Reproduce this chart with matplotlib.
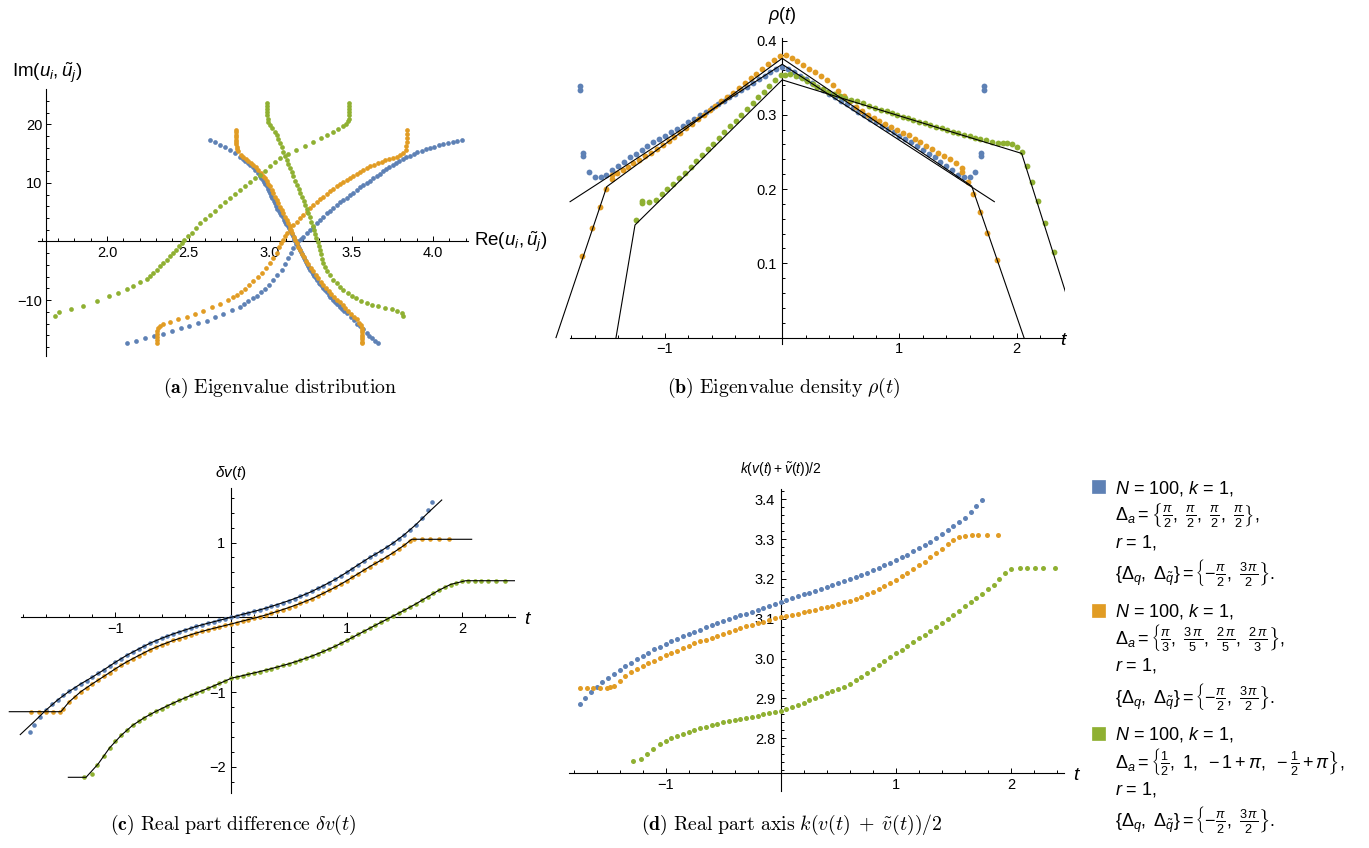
import numpy as np
import matplotlib
matplotlib.use("Agg")
import matplotlib.pyplot as plt
from matplotlib.patches import Rectangle
from matplotlib.ticker import FixedLocator

plt.rcParams['font.family'] = ['Liberation Sans', 'DejaVu Sans']
plt.rcParams['mathtext.fontset'] = 'custom'
plt.rcParams['mathtext.rm'] = 'Liberation Sans'
plt.rcParams['mathtext.it'] = 'Liberation Sans:italic'
plt.rcParams['mathtext.bf'] = 'Liberation Sans:bold'

BLUE, ORANGE, GREEN = '#5e81b5', '#e19c24', '#8fb032'

# ---------------- (a) eigenvalues in the complex plane: (Re, Im) ----------------
blue_a_rise = [(2.121, -17.3), (2.178, -16.9), (2.233, -16.5), (2.288, -16.2), (2.341, -15.7), (2.397, -15.2),
               (2.452, -14.8), (2.505, -14.4), (2.56, -13.9), (2.611, -13.5), (2.663, -12.9), (2.714, -12.3),
               (2.765, -11.75), (2.816, -11.1), (2.842, -10.65), (2.867, -10.2), (2.893, -9.7), (2.918, -9.25),
               (2.944, -8.7), (2.969, -8.1), (2.995, -7.35), (3.02, -6.6), (3.046, -5.7), (3.072, -4.8),
               (3.092, -3.8), (3.112, -2.8), (3.128, -1.95), (3.143, -1.1), (3.158, -0.5), (3.174, 0.0),
               (3.189, 0.45), (3.204, 0.85), (3.225, 1.45), (3.245, 2.0), (3.266, 2.55), (3.286, 3.1),
               (3.307, 3.7), (3.327, 4.26), (3.348, 4.8), (3.368, 5.28), (3.389, 5.8), (3.409, 6.25),
               (3.43, 6.7), (3.45, 7.1), (3.471, 7.5), (3.491, 7.9), (3.512, 8.35), (3.532, 8.8),
               (3.552, 9.25), (3.572, 9.66), (3.593, 10.05), (3.613, 10.4), (3.634, 10.8), (3.654, 11.2),
               (3.675, 11.6), (3.695, 12.0), (3.714, 12.35), (3.732, 12.7), (3.753, 13.05), (3.773, 13.4),
               (3.794, 13.7), (3.814, 14.0), (3.837, 14.35), (3.859, 14.65), (3.882, 14.95), (3.904, 15.2),
               (3.93, 15.45), (3.955, 15.7), (3.982, 15.95), (4.008, 16.2), (4.036, 16.4), (4.064, 16.6),
               (4.093, 16.8), (4.121, 17.0), (4.149, 17.15), (4.176, 17.3)]
blue_a_fall = [(2.632, 17.3), (2.663, 16.9), (2.693, 16.5), (2.724, 16.1), (2.755, 15.6), (2.785, 15.1),
               (2.816, 14.5), (2.832, 14.15), (2.847, 13.8), (2.862, 13.45), (2.877, 13.1), (2.893, 12.65),
               (2.908, 12.2), (2.924, 11.7), (2.939, 11.2), (2.947, 10.85), (2.955, 10.5), (2.964, 10.15),
               (2.972, 9.8), (2.98, 9.4), (2.988, 9.0), (2.994, 8.6), (3.0, 8.2), (3.008, 7.8), (3.015, 7.4),
               (3.023, 6.95), (3.031, 6.5), (3.039, 6.05), (3.046, 5.6), (3.054, 5.2), (3.061, 4.8),
               (3.069, 4.45), (3.077, 4.1), (3.085, 3.75), (3.092, 3.4), (3.1, 3.05), (3.108, 2.7),
               (3.116, 2.35), (3.123, 2.0), (3.129, 1.65), (3.134, 1.3), (3.14, 0.95), (3.145, 0.6),
               (3.15, 0.25), (3.157, -0.1), (3.164, -0.45), (3.171, -0.8), (3.178, -1.15), (3.185, -1.5),
               (3.192, -1.85), (3.198, -2.2), (3.205, -2.55), (3.21, -2.85), (3.215, -3.2), (3.221, -3.5),
               (3.227, -3.85), (3.234, -4.2), (3.241, -4.55), (3.248, -4.9), (3.256, -5.25), (3.264, -5.6),
               (3.272, -5.95), (3.281, -6.3), (3.29, -6.65), (3.298, -7.0), (3.307, -7.3), (3.317, -7.65),
               (3.328, -8.0), (3.339, -8.35), (3.35, -8.7), (3.36, -9.05), (3.37, -9.4), (3.38, -9.7),
               (3.389, -10.0), (3.4, -10.3), (3.41, -10.6), (3.421, -10.9), (3.432, -11.2), (3.443, -11.5),
               (3.453, -11.8), (3.471, -12.2), (3.494, -12.8), (3.518, -13.4), (3.535, -14.0), (3.552, -14.5),
               (3.568, -15.0), (3.593, -15.6), (3.61, -16.1), (3.624, -16.5), (3.645, -16.9), (3.664, -17.3)]
orange_a_rise = [(2.305, -17.3), (2.305, -16.8), (2.306, -16.3), (2.307, -15.8), (2.309, -15.3), (2.315, -14.8),
                 (2.325, -14.5), (2.346, -14.1), (2.387, -13.7), (2.438, -13.2), (2.489, -12.8), (2.54, -12.3),
                 (2.591, -11.8), (2.642, -11.2), (2.693, -10.6), (2.744, -9.9), (2.77, -9.5), (2.796, -9.1),
                 (2.822, -8.6), (2.847, -8.1), (2.872, -7.5), (2.898, -6.8), (2.924, -6.1), (2.949, -5.4),
                 (2.975, -4.6), (3.0, -3.7), (3.02, -2.9), (3.04, -2.0), (3.058, -1.0), (3.068, -0.3),
                 (3.078, 0.3), (3.09, 0.9), (3.102, 1.5), (3.12, 2.2), (3.143, 2.85), (3.163, 3.4),
                 (3.184, 4.0), (3.205, 4.6), (3.225, 5.1), (3.245, 5.7), (3.266, 6.25), (3.287, 6.7),
                 (3.307, 7.2), (3.328, 7.65), (3.348, 8.1), (3.368, 8.55), (3.388, 9.0), (3.409, 9.4),
                 (3.429, 9.8), (3.45, 10.15), (3.471, 10.5), (3.491, 10.85), (3.511, 11.2), (3.531, 11.55),
                 (3.552, 11.9), (3.572, 12.2), (3.593, 12.5), (3.615, 12.8), (3.638, 13.1), (3.661, 13.35),
                 (3.685, 13.6), (3.708, 13.85), (3.732, 14.1), (3.755, 14.3), (3.777, 14.5), (3.80, 14.8),
                 (3.818, 15.1), (3.832, 15.6), (3.837, 16.3), (3.838, 17.0), (3.838, 17.7), (3.838, 18.4),
                 (3.838, 19.0)]
orange_a_fall = [(2.791, 19.0), (2.791, 18.6), (2.791, 18.2), (2.792, 17.8), (2.792, 17.4), (2.793, 17.0),
                 (2.794, 16.6), (2.796, 16.2), (2.799, 15.8), (2.802, 15.45), (2.822, 14.8), (2.837, 14.5),
                 (2.852, 14.15), (2.867, 13.8), (2.883, 13.45), (2.898, 13.1), (2.913, 12.65), (2.928, 12.2),
                 (2.944, 11.7), (2.959, 11.2), (2.97, 10.75), (2.98, 10.3), (2.99, 9.85), (3.0, 9.4),
                 (3.01, 8.8), (3.02, 8.25), (3.03, 7.65), (3.041, 7.1), (3.051, 6.5), (3.061, 5.95),
                 (3.072, 5.35), (3.082, 4.8), (3.092, 4.25), (3.102, 3.7), (3.113, 3.1), (3.123, 2.56),
                 (3.131, 2.0), (3.138, 1.4), (3.146, 0.85), (3.153, 0.28), (3.164, -0.3), (3.174, -0.9),
                 (3.185, -1.5), (3.196, -2.1), (3.206, -2.7), (3.22, -3.3), (3.235, -3.9), (3.25, -4.5),
                 (3.265, -5.1), (3.28, -5.7), (3.295, -6.3), (3.311, -6.9), (3.327, -7.4), (3.343, -7.95),
                 (3.36, -8.45), (3.376, -8.95), (3.393, -9.45), (3.409, -9.9), (3.427, -10.4), (3.445, -10.9),
                 (3.462, -11.4), (3.48, -11.9), (3.498, -12.4), (3.515, -12.85), (3.532, -13.3), (3.547, -13.9),
                 (3.557, -14.3), (3.562, -14.7), (3.563, -15.1), (3.564, -15.5), (3.564, -15.9), (3.565, -16.3),
                 (3.565, -16.7), (3.565, -17.1), (3.565, -17.4)]
green_a_rise = [(1.681, -12.66), (1.707, -12.03), (1.777, -11.5), (1.851, -10.95), (1.937, -10.2), (2.014, -9.37),
                (2.07, -8.8), (2.121, -8.12), (2.162, -7.55), (2.202, -6.98), (2.243, -6.41), (2.264, -5.9),
                (2.284, -5.39), (2.305, -4.8), (2.326, -4.25), (2.346, -3.69), (2.366, -3.1), (2.387, -2.55),
                (2.407, -1.99), (2.425, -1.4), (2.442, -0.85), (2.458, -0.28), (2.475, 0.3), (2.498, 0.9),
                (2.52, 1.5), (2.545, 2.3), (2.571, 3.1), (2.6, 3.8), (2.63, 4.5), (2.661, 5.25), (2.693, 6.0),
                (2.724, 6.7), (2.755, 7.4), (2.786, 8.1), (2.816, 8.8), (2.846, 9.45), (2.877, 10.1),
                (2.908, 10.75), (2.939, 11.4), (2.97, 12.1), (3.0, 12.8), (3.03, 13.5), (3.063, 14.2),
                (3.11, 14.9), (3.16, 15.6), (3.215, 16.3), (3.266, 17.0), (3.31, 17.6), (3.348, 18.2),
                (3.385, 18.7), (3.418, 19.2), (3.447, 19.7), (3.468, 20.1), (3.479, 20.5), (3.484, 20.95),
                (3.485, 21.5), (3.485, 22.05), (3.485, 22.6), (3.485, 23.15), (3.485, 23.7)]
green_a_fall = [(2.982, 23.7), (2.982, 23.15), (2.983, 22.6), (2.983, 22.05), (2.984, 21.5), (2.985, 20.95),
                (2.99, 20.4), (3.002, 19.85), (3.015, 19.3), (3.03, 18.7), (3.042, 18.1), (3.052, 17.45),
                (3.061, 16.8), (3.071, 16.1), (3.082, 15.3), (3.092, 14.6), (3.102, 13.9), (3.112, 13.2),
                (3.122, 12.5), (3.133, 11.8), (3.143, 11.1), (3.154, 10.4), (3.165, 9.7), (3.176, 9.0),
                (3.186, 8.3), (3.197, 7.6), (3.207, 6.9), (3.217, 6.2), (3.227, 5.5), (3.236, 4.8),
                (3.245, 4.1), (3.254, 3.4), (3.262, 2.7), (3.27, 2.0), (3.278, 1.3), (3.285, 0.6),
                (3.292, -0.1), (3.299, -0.8), (3.306, -1.5), (3.313, -2.2), (3.32, -2.95), (3.327, -3.7),
                (3.338, -4.4), (3.352, -5.1), (3.37, -5.8), (3.389, -6.5), (3.41, -7.1), (3.432, -7.7),
                (3.45, -8.24), (3.478, -8.8), (3.503, -9.3), (3.53, -9.7), (3.561, -10.1), (3.593, -10.5),
                (3.628, -10.8), (3.664, -11.07), (3.705, -11.35), (3.746, -11.6), (3.78, -11.9), (3.808, -12.2),
                (3.818, -12.66)]

# ---------------- (b) eigenvalue density rho(t) ----------------
blue_rho = [(-1.725, 0.339), (-1.725, 0.333), (-1.697, 0.248), (-1.697, 0.245), (-1.648, 0.2226), (-1.60, 0.2167),
            (-1.55, 0.2167), (-1.50, 0.2195), (-1.45, 0.2255), (-1.40, 0.2315), (-1.35, 0.237), (-1.30, 0.2425),
            (-1.25, 0.2475), (-1.20, 0.2525), (-1.15, 0.258), (-1.10, 0.263), (-1.05, 0.2675), (-1.00, 0.272),
            (-0.95, 0.2765), (-0.90, 0.281), (-0.85, 0.2855), (-0.80, 0.290), (-0.75, 0.295), (-0.70, 0.2995),
            (-0.65, 0.304), (-0.60, 0.309), (-0.55, 0.314), (-0.50, 0.319), (-0.45, 0.3235), (-0.40, 0.328),
            (-0.35, 0.333), (-0.30, 0.338), (-0.25, 0.343), (-0.20, 0.348), (-0.15, 0.352), (-0.10, 0.357),
            (-0.05, 0.361), (0.00, 0.364), (0.05, 0.361), (0.10, 0.357), (0.15, 0.352), (0.20, 0.348),
            (0.25, 0.343), (0.30, 0.338), (0.35, 0.333), (0.40, 0.328), (0.45, 0.3235), (0.50, 0.319),
            (0.55, 0.314), (0.60, 0.309), (0.65, 0.304), (0.70, 0.2995), (0.75, 0.295), (0.80, 0.290),
            (0.85, 0.2855), (0.90, 0.281), (0.95, 0.2765), (1.00, 0.272), (1.05, 0.2675), (1.10, 0.263),
            (1.15, 0.258), (1.20, 0.2525), (1.25, 0.2475), (1.30, 0.2425), (1.35, 0.237), (1.40, 0.2315),
            (1.45, 0.2255), (1.50, 0.2195), (1.55, 0.2167), (1.60, 0.2167), (1.648, 0.2226), (1.697, 0.248),
            (1.697, 0.245), (1.725, 0.339), (1.725, 0.333)]
orange_rho = [(-1.706, 0.110), (-1.62, 0.147), (-1.557, 0.176), (-1.503, 0.200), (-1.455, 0.214), (-1.455, 0.219),
              (-1.407, 0.222), (-1.361, 0.226), (-1.313, 0.230), (-1.27, 0.235), (-1.22, 0.239), (-1.17, 0.244),
              (-1.12, 0.249), (-1.07, 0.254), (-1.02, 0.259), (-0.97, 0.265), (-0.92, 0.270), (-0.87, 0.276),
              (-0.82, 0.282), (-0.77, 0.288), (-0.72, 0.294), (-0.67, 0.300), (-0.62, 0.306), (-0.57, 0.312),
              (-0.52, 0.318), (-0.47, 0.324), (-0.42, 0.330), (-0.37, 0.336), (-0.32, 0.343), (-0.27, 0.349),
              (-0.22, 0.355), (-0.17, 0.362), (-0.12, 0.368), (-0.07, 0.374), (-0.02, 0.379), (0.03, 0.380),
              (0.08, 0.376), (0.13, 0.372), (0.18, 0.367), (0.23, 0.362), (0.28, 0.357), (0.33, 0.352),
              (0.38, 0.347), (0.43, 0.340), (0.48, 0.332), (0.53, 0.325), (0.58, 0.318), (0.63, 0.311),
              (0.68, 0.305), (0.73, 0.300), (0.78, 0.296), (0.83, 0.292), (0.88, 0.288), (0.93, 0.284),
              (0.98, 0.280), (1.03, 0.276), (1.08, 0.2725), (1.13, 0.268), (1.18, 0.263), (1.23, 0.258),
              (1.28, 0.2535), (1.33, 0.249), (1.38, 0.244), (1.43, 0.240), (1.48, 0.2355), (1.532, 0.228),
              (1.532, 0.2234), (1.588, 0.210), (1.631, 0.193), (1.688, 0.1695), (1.75, 0.141), (1.835, 0.105)]
green_rho = [(-1.247, 0.1583), (-1.194, 0.1843), (-1.194, 0.1808), (-1.137, 0.1822), (-1.08, 0.1853),
             (-1.028, 0.1935), (-0.979, 0.200), (-0.929, 0.2073), (-0.881, 0.2145), (-0.829, 0.222),
             (-0.781, 0.2301), (-0.733, 0.2379), (-0.685, 0.2456), (-0.637, 0.2534), (-0.589, 0.2612),
             (-0.541, 0.2690), (-0.493, 0.2768), (-0.445, 0.2845), (-0.397, 0.2923), (-0.349, 0.3001),
             (-0.301, 0.3079), (-0.253, 0.3157), (-0.205, 0.3235), (-0.157, 0.3312), (-0.109, 0.339),
             (-0.061, 0.3468), (-0.013, 0.3536), (0.024, 0.3536), (0.07, 0.3545), (0.12, 0.352), (0.166, 0.3491),
             (0.21, 0.3455), (0.26, 0.3415), (0.30, 0.338), (0.35, 0.3345), (0.393, 0.3311), (0.44, 0.3285),
             (0.49, 0.3255), (0.54, 0.323), (0.59, 0.3205), (0.64, 0.318), (0.69, 0.3155), (0.74, 0.3125),
             (0.79, 0.3096), (0.84, 0.307), (0.89, 0.3045), (0.934, 0.302), (0.98, 0.2998), (1.03, 0.2975),
             (1.076, 0.2953), (1.12, 0.293), (1.17, 0.2908), (1.218, 0.2885), (1.26, 0.2863), (1.31, 0.284),
             (1.361, 0.2818), (1.41, 0.2795), (1.455, 0.2773), (1.503, 0.2751), (1.55, 0.2731), (1.6, 0.2711),
             (1.645, 0.2692), (1.69, 0.2675), (1.74, 0.2657), (1.788, 0.2638), (1.84, 0.2625), (1.88, 0.262),
             (1.92, 0.2615), (1.963, 0.2603), (2.001, 0.2570), (2.043, 0.2503), (2.086, 0.2315), (2.129, 0.2099),
             (2.18, 0.1843), (2.242, 0.1539), (2.319, 0.1157)]
blue_rho_fit = [(-1.81, 0.183), (0.0, 0.368), (1.81, 0.183)]
orange_rho_fit = [(-1.93, 0.0), (-1.497, 0.2032), (0.0, 0.376), (1.617, 0.204), (2.063, 0.0)]
green_rho_fit = [(-1.418, 0.0), (-1.256, 0.1516), (0.0, 0.347), (2.043, 0.248), (2.42, 0.060)]

# ---------------- (c) real part difference dv(t) ----------------
blue_dv = [(-1.74, -1.535), (-1.70, -1.44), (-1.65, -1.33), (-1.60, -1.24), (-1.55, -1.165), (-1.50, -1.105),
           (-1.45, -1.045), (-1.40, -0.99), (-1.35, -0.94), (-1.30, -0.89), (-1.25, -0.845), (-1.20, -0.80),
           (-1.15, -0.75), (-1.10, -0.702), (-1.05, -0.65), (-1.00, -0.60), (-0.95, -0.552), (-0.90, -0.506),
           (-0.85, -0.463), (-0.80, -0.424), (-0.75, -0.386), (-0.70, -0.346), (-0.65, -0.311), (-0.60, -0.28),
           (-0.55, -0.25), (-0.50, -0.222), (-0.45, -0.196), (-0.40, -0.171), (-0.35, -0.146), (-0.30, -0.122),
           (-0.25, -0.098), (-0.20, -0.079), (-0.15, -0.059), (-0.10, -0.04), (-0.05, -0.02), (0.00, 0.0),
           (0.05, 0.02), (0.10, 0.04), (0.15, 0.059), (0.20, 0.079), (0.25, 0.098), (0.30, 0.122), (0.35, 0.146),
           (0.40, 0.171), (0.45, 0.196), (0.50, 0.222), (0.55, 0.25), (0.60, 0.28), (0.65, 0.311), (0.70, 0.346),
           (0.75, 0.386), (0.80, 0.424), (0.85, 0.463), (0.90, 0.506), (0.95, 0.552), (1.00, 0.60), (1.05, 0.65),
           (1.10, 0.702), (1.15, 0.75), (1.20, 0.80), (1.25, 0.845), (1.30, 0.89), (1.35, 0.94), (1.40, 0.99),
           (1.45, 1.045), (1.50, 1.105), (1.55, 1.165), (1.60, 1.24), (1.65, 1.33), (1.70, 1.44), (1.74, 1.535)]
orange_dv = [(-1.733, -1.262), (-1.66, -1.262), (-1.60, -1.262), (-1.54, -1.262), (-1.48, -1.262), (-1.45, -1.22),
             (-1.40, -1.13), (-1.35, -1.06), (-1.30, -0.995), (-1.25, -0.94), (-1.20, -0.89), (-1.15, -0.84),
             (-1.10, -0.79), (-1.05, -0.738), (-1.00, -0.688), (-0.95, -0.64), (-0.90, -0.594), (-0.85, -0.551),
             (-0.80, -0.512), (-0.75, -0.474), (-0.70, -0.434), (-0.65, -0.399), (-0.60, -0.368), (-0.55, -0.338),
             (-0.50, -0.31), (-0.45, -0.284), (-0.40, -0.259), (-0.35, -0.234), (-0.30, -0.21), (-0.25, -0.186),
             (-0.20, -0.167), (-0.15, -0.147), (-0.10, -0.128), (-0.05, -0.108), (0.00, -0.09), (0.05, -0.07),
             (0.10, -0.05), (0.15, -0.031), (0.20, -0.011), (0.25, 0.008), (0.30, 0.03), (0.35, 0.054),
             (0.40, 0.079), (0.45, 0.104), (0.50, 0.13), (0.55, 0.157), (0.60, 0.186), (0.65, 0.216),
             (0.70, 0.249), (0.75, 0.286), (0.80, 0.322), (0.85, 0.359), (0.90, 0.40), (0.95, 0.443),
             (1.00, 0.488), (1.05, 0.535), (1.10, 0.583), (1.15, 0.63), (1.20, 0.678), (1.25, 0.72),
             (1.30, 0.765), (1.35, 0.812), (1.40, 0.86), (1.45, 0.91), (1.50, 0.965), (1.55, 1.02),
             (1.58, 1.043), (1.65, 1.043), (1.72, 1.043), (1.80, 1.043), (1.89, 1.043)]
green_dv = [(-1.272, -2.139), (-1.205, -2.095), (-1.156, -1.975), (-1.10, -1.856), (-1.05, -1.745), (-1.00, -1.657),
            (-0.95, -1.578), (-0.90, -1.508), (-0.85, -1.443), (-0.80, -1.39), (-0.75, -1.342), (-0.70, -1.298),
            (-0.65, -1.258), (-0.60, -1.22), (-0.55, -1.183), (-0.50, -1.147), (-0.45, -1.112), (-0.40, -1.078),
            (-0.35, -1.045), (-0.30, -1.013), (-0.25, -0.982), (-0.20, -0.95), (-0.15, -0.918), (-0.10, -0.885),
            (-0.05, -0.851), (0.00, -0.816), (0.05, -0.798), (0.10, -0.78), (0.15, -0.762), (0.20, -0.744),
            (0.25, -0.725), (0.30, -0.706), (0.35, -0.686), (0.40, -0.665), (0.45, -0.644), (0.50, -0.622),
            (0.55, -0.598), (0.60, -0.573), (0.65, -0.546), (0.70, -0.518), (0.75, -0.488), (0.80, -0.456),
            (0.85, -0.423), (0.90, -0.388), (0.95, -0.35), (1.00, -0.31), (1.05, -0.27), (1.10, -0.228),
            (1.15, -0.187), (1.20, -0.146), (1.25, -0.105), (1.30, -0.065), (1.35, -0.025), (1.40, 0.015),
            (1.45, 0.055), (1.50, 0.095), (1.55, 0.136), (1.60, 0.18), (1.65, 0.226), (1.70, 0.273),
            (1.75, 0.321), (1.80, 0.363), (1.85, 0.40), (1.90, 0.437), (1.95, 0.462), (2.00, 0.48),
            (2.05, 0.489), (2.107, 0.489), (2.165, 0.489), (2.222, 0.489), (2.294, 0.489), (2.366, 0.489)]
blue_dv_fit = [(-1.823, -1.568), (-1.7, -1.39), (-1.6, -1.24), (-1.5, -1.105), (-1.4, -0.99), (-1.3, -0.89),
               (-1.2, -0.8), (-1.1, -0.702), (-1.0, -0.6), (-0.9, -0.506), (-0.8, -0.424), (-0.7, -0.346),
               (-0.6, -0.28), (-0.5, -0.222), (-0.4, -0.171), (-0.3, -0.122), (-0.2, -0.079), (-0.1, -0.04),
               (0.0, 0.0), (0.1, 0.04), (0.2, 0.079), (0.3, 0.122), (0.4, 0.171), (0.5, 0.222), (0.6, 0.28),
               (0.7, 0.346), (0.8, 0.424), (0.9, 0.506), (1.0, 0.6), (1.1, 0.702), (1.2, 0.8), (1.3, 0.89),
               (1.4, 0.99), (1.5, 1.105), (1.6, 1.24), (1.7, 1.39), (1.823, 1.568)]
orange_dv_fit = [(-1.918, -1.262), (-1.471, -1.262), (-1.4, -1.13), (-1.3, -0.995), (-1.2, -0.89), (-1.1, -0.79),
                 (-1.0, -0.688), (-0.9, -0.594), (-0.8, -0.512), (-0.7, -0.434), (-0.6, -0.368), (-0.5, -0.31),
                 (-0.4, -0.259), (-0.3, -0.21), (-0.2, -0.167), (-0.1, -0.128), (0.0, -0.09), (0.1, -0.05),
                 (0.2, -0.011), (0.3, 0.03), (0.4, 0.079), (0.5, 0.13), (0.6, 0.186), (0.7, 0.249), (0.8, 0.322),
                 (0.9, 0.40), (1.0, 0.488), (1.1, 0.583), (1.2, 0.678), (1.3, 0.765), (1.4, 0.86), (1.5, 0.965),
                 (1.563, 1.043), (2.082, 1.043)]
green_dv_fit = [(-1.407, -2.139), (-1.254, -2.139), (-1.15, -1.962), (-1.05, -1.745), (-0.95, -1.578),
                (-0.85, -1.443), (-0.75, -1.342), (-0.65, -1.258), (-0.55, -1.183), (-0.45, -1.112), (-0.35, -1.045),
                (-0.25, -0.982), (-0.15, -0.918), (-0.05, -0.851), (0.0, -0.816), (0.1, -0.78), (0.2, -0.744),
                (0.3, -0.706), (0.4, -0.665), (0.5, -0.622), (0.6, -0.573), (0.7, -0.518), (0.8, -0.456),
                (0.9, -0.388), (1.0, -0.31), (1.1, -0.228), (1.2, -0.146), (1.3, -0.065), (1.4, 0.015),
                (1.5, 0.095), (1.6, 0.18), (1.7, 0.273), (1.8, 0.363), (1.9, 0.44), (2.03, 0.489), (2.457, 0.489)]

# ---------------- (d) real part axis k(v+v~)/2 ----------------
blue_axis = [(-1.745, 2.886), (-1.70, 2.902), (-1.65, 2.917), (-1.60, 2.930), (-1.55, 2.941), (-1.50, 2.952),
             (-1.45, 2.962), (-1.40, 2.972), (-1.35, 2.981), (-1.30, 2.990), (-1.25, 2.999), (-1.20, 3.007),
             (-1.15, 3.015), (-1.10, 3.023), (-1.05, 3.030), (-1.00, 3.037), (-0.95, 3.044), (-0.90, 3.050),
             (-0.85, 3.056), (-0.80, 3.062), (-0.75, 3.068), (-0.70, 3.073), (-0.65, 3.079), (-0.60, 3.084),
             (-0.55, 3.089), (-0.50, 3.094), (-0.45, 3.099), (-0.40, 3.104), (-0.35, 3.109), (-0.30, 3.113),
             (-0.25, 3.118), (-0.20, 3.123), (-0.15, 3.128), (-0.10, 3.132), (-0.05, 3.137), (0.00, 3.142),
             (0.05, 3.147), (0.10, 3.151), (0.15, 3.156), (0.20, 3.161), (0.25, 3.166), (0.30, 3.170),
             (0.35, 3.175), (0.40, 3.180), (0.45, 3.185), (0.50, 3.190), (0.55, 3.195), (0.60, 3.200),
             (0.65, 3.205), (0.70, 3.210), (0.75, 3.216), (0.80, 3.222), (0.85, 3.228), (0.90, 3.234),
             (0.95, 3.240), (1.00, 3.247), (1.05, 3.254), (1.10, 3.261), (1.15, 3.269), (1.20, 3.277),
             (1.25, 3.285), (1.30, 3.294), (1.35, 3.303), (1.40, 3.312), (1.45, 3.322), (1.50, 3.332),
             (1.55, 3.343), (1.60, 3.354), (1.65, 3.367), (1.70, 3.382), (1.745, 3.398)]
orange_axis = [(-1.744, 2.925), (-1.687, 2.925), (-1.629, 2.925), (-1.571, 2.925), (-1.513, 2.926), (-1.483, 2.928),
               (-1.45, 2.932), (-1.40, 2.944), (-1.35, 2.956), (-1.30, 2.966), (-1.25, 2.975), (-1.20, 2.981),
               (-1.15, 2.988), (-1.10, 2.994), (-1.05, 3.001), (-1.00, 3.008), (-0.95, 3.014), (-0.90, 3.020),
               (-0.85, 3.026), (-0.80, 3.032), (-0.75, 3.038), (-0.70, 3.043), (-0.65, 3.048), (-0.60, 3.053),
               (-0.55, 3.058), (-0.50, 3.062), (-0.45, 3.067), (-0.40, 3.072), (-0.35, 3.076), (-0.30, 3.081),
               (-0.25, 3.085), (-0.20, 3.089), (-0.15, 3.093), (-0.10, 3.097), (-0.05, 3.101), (0.00, 3.104),
               (0.05, 3.107), (0.10, 3.110), (0.15, 3.113), (0.20, 3.116), (0.25, 3.119), (0.30, 3.122),
               (0.35, 3.126), (0.40, 3.130), (0.45, 3.133), (0.50, 3.137), (0.55, 3.141), (0.60, 3.145),
               (0.65, 3.150), (0.70, 3.155), (0.75, 3.161), (0.80, 3.167), (0.85, 3.174), (0.90, 3.182),
               (0.95, 3.190), (1.00, 3.198), (1.05, 3.207), (1.10, 3.216), (1.15, 3.225), (1.20, 3.234),
               (1.25, 3.243), (1.30, 3.254), (1.35, 3.265), (1.40, 3.276), (1.45, 3.287), (1.50, 3.297),
               (1.55, 3.305), (1.601, 3.309), (1.659, 3.310), (1.717, 3.310), (1.789, 3.310), (1.891, 3.310)]
green_axis = [(-1.281, 2.744), (-1.217, 2.747), (-1.159, 2.760), (-1.107, 2.772), (-1.05, 2.785), (-1.00, 2.794),
              (-0.95, 2.800), (-0.90, 2.805), (-0.85, 2.811), (-0.80, 2.816), (-0.75, 2.821), (-0.70, 2.825),
              (-0.65, 2.829), (-0.60, 2.833), (-0.55, 2.837), (-0.50, 2.840), (-0.45, 2.843), (-0.40, 2.846),
              (-0.35, 2.848), (-0.30, 2.851), (-0.25, 2.854), (-0.20, 2.857), (-0.15, 2.860), (-0.10, 2.863),
              (-0.05, 2.866), (0.00, 2.869), (0.05, 2.874), (0.10, 2.879), (0.15, 2.884), (0.20, 2.889),
              (0.25, 2.895), (0.30, 2.901), (0.35, 2.907), (0.40, 2.913), (0.45, 2.918), (0.50, 2.923),
              (0.55, 2.930), (0.60, 2.937), (0.65, 2.946), (0.70, 2.955), (0.75, 2.964), (0.80, 2.974),
              (0.85, 2.983), (0.90, 2.993), (0.95, 3.003), (1.00, 3.013), (1.05, 3.022), (1.10, 3.032),
              (1.15, 3.041), (1.20, 3.051), (1.25, 3.060), (1.30, 3.070), (1.35, 3.080), (1.40, 3.090),
              (1.45, 3.100), (1.50, 3.110), (1.55, 3.120), (1.60, 3.131), (1.65, 3.141), (1.70, 3.152),
              (1.75, 3.163), (1.80, 3.174), (1.85, 3.186), (1.90, 3.200), (1.95, 3.214), (2.00, 3.225),
              (2.079, 3.228), (2.137, 3.228), (2.209, 3.228), (2.282, 3.228), (2.383, 3.228)]

# legend text
legend_rows = [
    (BLUE, [r'$N$ = 100, $k$ = 1,',
            r'$\Delta_a = \left\{\frac{\pi}{2},\ \frac{\pi}{2},\ \frac{\pi}{2},\ \frac{\pi}{2}\right\}$,',
            r'$r$ = 1,',
            r'$\{\Delta_q,\ \Delta_{\tilde{q}}\} = \left\{-\frac{\pi}{2},\ \frac{3\,\pi}{2}\right\}$.']),
    (ORANGE, [r'$N$ = 100, $k$ = 1,',
              r'$\Delta_a = \left\{\frac{\pi}{3},\ \frac{3\,\pi}{5},\ \frac{2\,\pi}{5},\ \frac{2\,\pi}{3}\right\}$,',
              r'$r$ = 1,',
              r'$\{\Delta_q,\ \Delta_{\tilde{q}}\} = \left\{-\frac{\pi}{2},\ \frac{3\,\pi}{2}\right\}$.']),
    (GREEN, [r'$N$ = 100, $k$ = 1,',
             r'$\Delta_a = \left\{\frac{1}{2},\ 1,\ -1+\pi,\ -\frac{1}{2}+\pi\right\}$,',
             r'$r$ = 1,',
             r'$\{\Delta_q,\ \Delta_{\tilde{q}}\} = \left\{-\frac{\pi}{2},\ \frac{3\,\pi}{2}\right\}$.']),
]

W, H = 1369, 848
fig = plt.figure(figsize=(W / 100, H / 100), dpi=100)


def panel(x_zero, x_scale, y_zero, y_scale, xlim, ylim):
    # place an axes so that data x=0 / y=0 land on the given pixel column / row
    left = x_zero + x_scale * xlim[0]
    right = x_zero + x_scale * xlim[1]
    top = y_zero - y_scale * ylim[1]
    bottom = y_zero - y_scale * ylim[0]
    ax = fig.add_axes([left / W, 1 - bottom / H, (right - left) / W, (bottom - top) / H])
    ax.set_xlim(xlim)
    ax.set_ylim(ylim)
    ax.patch.set_visible(False)
    return ax


def axes_style(ax, origin, xspan, yspan, xmaj, xlab, ymaj, ylab, xmin, ymin, ypad=4):
    ax.spines[['top', 'right']].set_visible(False)
    ax.spines['left'].set_position(('data', origin[0]))
    ax.spines['bottom'].set_position(('data', origin[1]))
    ax.spines['bottom'].set_bounds(*xspan)
    ax.spines['left'].set_bounds(*yspan)
    for s in ('left', 'bottom'):
        ax.spines[s].set_linewidth(0.8)
    ax.set_xticks(xmaj, labels=xlab)
    ax.set_yticks(ymaj, labels=ylab)
    ax.xaxis.set_minor_locator(FixedLocator(xmin))
    ax.yaxis.set_minor_locator(FixedLocator(ymin))
    ax.tick_params(which='both', direction='in', width=0.7, labelsize=10.5)
    ax.tick_params(which='major', length=3.6)
    ax.tick_params(which='minor', length=2.0)
    ax.tick_params(axis='x', pad=3.5)
    ax.tick_params(axis='y', pad=ypad)


def dots(ax, pts, color, ms):
    x, y = zip(*pts)
    ax.plot(x, y, 'o', ls='none', ms=ms, color=color, mew=0, zorder=3)


def curve(ax, pts):
    x, y = zip(*pts)
    ax.plot(x, y, color='black', lw=0.8, zorder=4)


def ftext(x, y, s, **kw):
    kw.setdefault('ha', 'center')
    kw.setdefault('va', 'center')
    fig.text(x / W, 1 - y / H, s, **kw)


def ticks(a, b, step):
    return np.round(np.arange(a, b + step / 2, step), 3)


# (a) eigenvalue distribution
ax = panel(-219, 163.0, 241.5, 5.862, (1.577, 4.215), (-19.5, 26.0))
axes_style(ax, (1.626, 0), (1.577, 4.215), (-19.5, 26.0),
           [2.0, 2.5, 3.0, 3.5, 4.0], ['2.0', '2.5', '3.0', '3.5', '4.0'],
           [-10, 10, 20], ['\u221210', '10', '20'],
           ticks(1.6, 4.2, 0.1), ticks(-18, 24, 2), ypad=2.5)
for pts, c in [(blue_a_rise, BLUE), (blue_a_fall, BLUE), (orange_a_rise, ORANGE),
               (orange_a_fall, ORANGE), (green_a_rise, GREEN), (green_a_fall, GREEN)]:
    dots(ax, pts, c, 3.4)
ftext(46.7, 73, r'Im$(u_i,\tilde{u}_j)$', fontsize=13.5)
ftext(474, 241.5, r'Re$(u_i,\tilde{u}_j)$', fontsize=13.5, ha='left')

# (b) eigenvalue density
ax = panel(782.2, 117.2, 337.6, 742.7, (-1.95, 2.41), (-0.009, 0.41))
axes_style(ax, (0, 0), (-1.81, 2.41), (-0.009, 0.403),
           [-1, 1, 2], ['\u22121', '1', '2'],
           [0.1, 0.2, 0.3, 0.4], ['0.1', '0.2', '0.3', '0.4'],
           ticks(-1.8, 2.4, 0.2), ticks(0.02, 0.4, 0.02))
for pts, c in [(blue_rho, BLUE), (orange_rho, ORANGE), (green_rho, GREEN)]:
    dots(ax, pts, c, 4.2)
for pts in (blue_rho_fit, orange_rho_fit, green_rho_fit):
    curve(ax, pts)
ftext(782, 16, r'$\rho(t)$', fontsize=13)
ftext(1064, 341, r'$t$', fontsize=14)

# (c) real part difference
ax = panel(231.0, 115.6, 617.3, 74.8, (-1.93, 2.46), (-2.345, 1.725))
axes_style(ax, (0, 0), (-1.817, 2.46), (-2.345, 1.725),
           [-1, 1, 2], ['\u22121', '1', '2'],
           [-2, -1, 1], ['\u22122', '\u22121', '1'],
           ticks(-1.8, 2.4, 0.2), ticks(-2.2, 1.6, 0.2))
for pts, c in [(blue_dv, BLUE), (orange_dv, ORANGE), (green_dv, GREEN)]:
    dots(ax, pts, c, 3.3)
for pts in (blue_dv_fit, orange_dv_fit, green_dv_fit):
    curve(ax, pts)
ftext(231, 473, r'$\delta v(t)$', fontsize=11)
ftext(528, 620, r'$t$', fontsize=14)

# (d) real part axis
ax = panel(780.7, 115.1, 499.3 + 3.4 * 398.3, 398.3, (-1.84, 2.46), (2.668, 3.425))
axes_style(ax, (0, 2.712), (-1.84, 2.46), (2.668, 3.425),
           [-1, 1, 2], ['\u22121', '1', '2'],
           [2.8, 2.9, 3.0, 3.1, 3.2, 3.3, 3.4], ['2.8', '2.9', '3.0', '3.1', '3.2', '3.3', '3.4'],
           ticks(-1.8, 2.4, 0.2), ticks(2.72, 3.42, 0.02))
for pts, c in [(blue_axis, BLUE), (orange_axis, ORANGE), (green_axis, GREEN)]:
    dots(ax, pts, c, 3.6)
ftext(781, 470, r'$k(v(t)+\tilde{v}(t))/2$', fontsize=10)
ftext(1077, 775, r'$t$', fontsize=14)

# legend on the right
for i, (c, lines) in enumerate(legend_rows):
    base = 493 + 123.5 * i
    fig.add_artist(Rectangle((1092 / W, 1 - base / H), 13 / W, 13 / H, transform=fig.transFigure,
                             facecolor=c, edgecolor=c, lw=0.5))
    for dy, s in zip([0, 28.7, 54.3, 87.7], lines):
        ftext(1115, base + dy, s, ha='left', va='baseline', fontsize=13)

# sub-figure captions
cap = dict(fontsize=14.3, math_fontfamily='cm')
ftext(280, 387.5, r'$\mathbf{(a)}\ \mathrm{Eigenvalue\ distribution}$', **cap)
ftext(784, 387.5, r'$\mathbf{(b)}\ \mathrm{Eigenvalue\ density}\ \rho(t)$', **cap)
ftext(233, 825, r'$\mathbf{(c)}\ \mathrm{Real\ part\ difference}\ \delta v(t)$', **cap)
ftext(792, 825, r'$\mathbf{(d)}\ \mathrm{Real\ part\ axis}\ k(v(t)\;+\;\tilde{v}(t))/2$', **cap)

fig.savefig('out.png', dpi=100)
